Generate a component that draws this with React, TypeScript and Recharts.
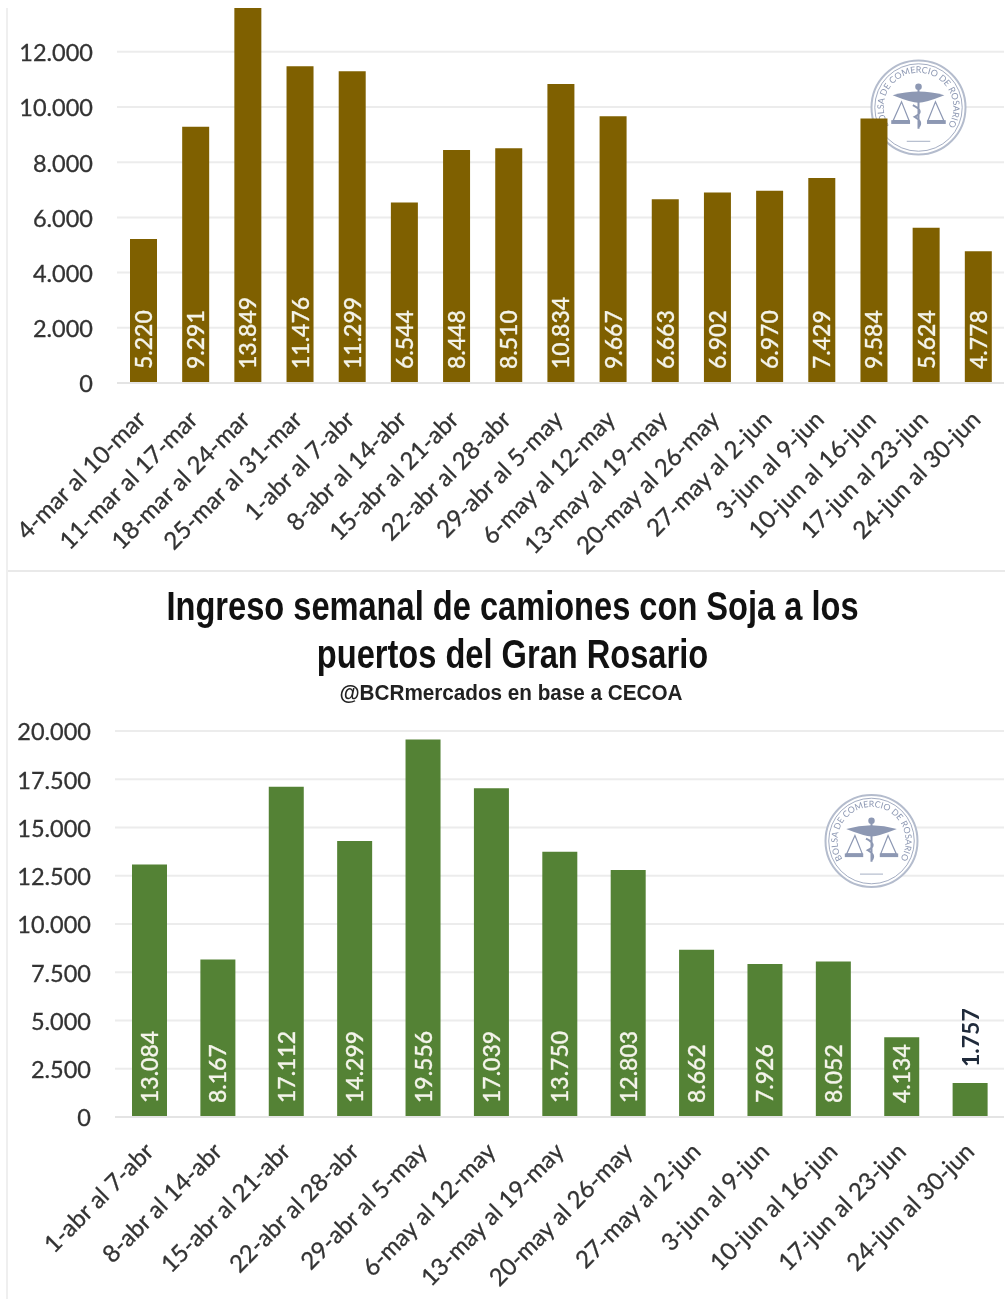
import React from "react";
import { BarChart, Bar, XAxis, YAxis, CartesianGrid, LabelList, Customized } from "recharts";

const maizeWeeks = ["4-mar al 10-mar","11-mar al 17-mar","18-mar al 24-mar","25-mar al 31-mar","1-abr al 7-abr","8-abr al 14-abr","15-abr al 21-abr","22-abr al 28-abr","29-abr al 5-may","6-may al 12-may","13-may al 19-may","20-may al 26-may","27-may al 2-jun","3-jun al 9-jun","10-jun al 16-jun","17-jun al 23-jun","24-jun al 30-jun"];
const maizeValues = [5220,9291,13849,11476,11299,6544,8448,8510,10834,9667,6663,6902,6970,7429,9584,5624,4778];
const maizeTicks = [0,2000,4000,6000,8000,10000,12000];

const sojaWeeks = ["1-abr al 7-abr","8-abr al 14-abr","15-abr al 21-abr","22-abr al 28-abr","29-abr al 5-may","6-may al 12-may","13-may al 19-may","20-may al 26-may","27-may al 2-jun","3-jun al 9-jun","10-jun al 16-jun","17-jun al 23-jun","24-jun al 30-jun"];
const sojaValues = [13084,8167,17112,14299,19556,17039,13750,12803,8662,7926,8052,4134,1757];
const sojaTicks = [0,2500,5000,7500,10000,12500,15000,17500,20000];

const maizeData = maizeWeeks.map((week, i) => ({ week, value: maizeValues[i] }));
const sojaData = sojaWeeks.map((week, i) => ({ week, value: sojaValues[i] }));

const FONT = "Lato, 'Noto Sans', sans-serif";
const TITLE_FONT = "'Liberation Sans', sans-serif";
const fmt = (v: number) => String(v).replace(/\B(?=(\d{3})+(?!\d))/g, ".");

function Seal({ id, cx, cy, r }: { id: string; cx: number; cy: number; r: number }) {
  const c = "#8d98b3";
  const tr = r * 0.74;
  return (
    <g transform={`translate(${cx},${cy})`}>
      <circle r={r} fill="#fff" stroke="#b4bccd" strokeWidth={2} />
      <circle r={r * 0.93} fill="none" stroke={c} strokeWidth={0.8} />
      <path id={id} d={`M ${-tr * 0.8} ${tr * 0.6} A ${tr} ${tr} 0 1 1 ${tr * 0.8} ${tr * 0.6}`} fill="none" />
      <text fontFamily={FONT} fontSize={r * 0.19} fill={c}>
        <textPath href={`#${id}`} startOffset="50%" textAnchor="middle">BOLSA DE COMERCIO DE ROSARIO</textPath>
      </text>
      <path d={`M ${-r * 0.55} ${-r * 0.26} Q 0 ${-r * 0.42} ${r * 0.55} ${-r * 0.26} Q ${r * 0.15} ${-r * 0.1} 0 ${-r * 0.1} Q ${-r * 0.15} ${-r * 0.1} ${-r * 0.55} ${-r * 0.26} Z`} fill={c} />
      <circle cy={-r * 0.44} r={r * 0.07} fill={c} />
      <path d={`M 0 ${-r * 0.4} L 0 ${r * 0.45} M ${-r * 0.12} ${-r * 0.05} Q ${r * 0.15} ${r * 0.08} ${-r * 0.08} ${r * 0.2} Q ${r * 0.1} ${r * 0.3} 0 ${r * 0.42}`} fill="none" stroke={c} strokeWidth={2} />
      {[-1, 1].map((s) => (
        <path key={s} d={`M ${s * r * 0.36} ${-r * 0.12} L ${s * r * 0.2} ${r * 0.28} L ${s * r * 0.54} ${r * 0.28} Z`} fill="none" stroke={c} strokeWidth={1.2} />
      ))}
      <rect x={-r * 0.58} y={r * 0.27} width={r * 0.4} height={r * 0.08} fill={c} />
      <rect x={r * 0.18} y={r * 0.27} width={r * 0.4} height={r * 0.08} fill={c} />
      <path d={`M ${-r * 0.25} ${r * 0.72} L ${r * 0.25} ${r * 0.72}`} stroke="#b4bccd" strokeWidth={1.2} />
    </g>
  );
}

function valueLabel(props: any) {
  const { x, y, width, height, value } = props;
  const cx = x + width / 2;
  const small = height < 60;
  const base = small ? y - 16 : y + height - 14;
  return (
    <text
      transform={`translate(${cx + 8.5},${base}) rotate(-90)`}
      fontFamily={FONT}
      fontSize={23}
      fontWeight={small ? 700 : 500}
      fill={small ? "#1f2a3a" : "#f4f4ea"}
      stroke={small ? "none" : "#f4f4ea"}
      strokeWidth={0.3}
    >
      {fmt(value)}
    </text>
  );
}

function WeeklyChart({ data, ticks, max, color, barSize, height, top, axisH, yWidth, seal, labelShift }: any) {
  return (
    <BarChart width={1005} height={height} data={data} margin={{ top, right: 1, bottom: 0, left: 0 }}>
      <CartesianGrid horizontal vertical={false} syncWithTicks stroke="#ececec" strokeWidth={2} />
      <Customized component={() => <Seal {...seal} />} />
      <XAxis
        dataKey="week"
        interval={0}
        height={axisH}
        tickLine={false}
        axisLine={{ stroke: "#e4e4e4", strokeWidth: 2 }}
        angle={-45}
        textAnchor="end"
        tickMargin={12}
        tick={{ fontFamily: FONT, fontSize: 24, fill: "#333", stroke: "#333", strokeWidth: 0.3, dx: -labelShift, dy: labelShift }}
      />
      <YAxis
        width={yWidth}
        domain={[0, max]}
        allowDataOverflow
        ticks={ticks}
        interval={0}
        tickFormatter={fmt}
        tickLine={false}
        axisLine={false}
        tickSize={0}
        tickMargin={24}
        tick={{ fontFamily: FONT, fontSize: 23.5, fill: "#333", stroke: "#333", strokeWidth: 0.3, dy: 1 }}
      />
      <Bar dataKey="value" fill={color} barSize={barSize} isAnimationActive={false}>
        <LabelList dataKey="value" content={valueLabel} />
      </Bar>
    </BarChart>
  );
}

export default function App() {
  return (
    <div style={{ position: "absolute", left: 0, top: 0, width: 1005, height: 1299, background: "#fff", overflow: "hidden", filter: "blur(0.7px)" }}>
      <div style={{ position: "absolute", left: 0, top: 0 }}>
        <WeeklyChart data={maizeData} ticks={maizeTicks} max={13590} color="#7F6000" barSize={27} height={570} top={8} axisH={187} yWidth={117} labelShift={8}
          seal={{ id: "sealA", cx: 918.5, cy: 107.5, r: 47 }} />
      </div>
      <div style={{ position: "absolute", left: 7, top: 570, width: 998, height: 2, background: "#e9e9e9" }} />
      <div style={{ position: "absolute", left: 6, top: 8, width: 2, height: 1291, background: "#efefef" }} />
      <div style={{ position: "absolute", left: 0, top: 570 }}>
        <WeeklyChart data={sojaData} ticks={sojaTicks} max={20000} color="#548235" barSize={35} height={729} top={161} axisH={182} yWidth={115} labelShift={6}
          seal={{ id: "sealB", cx: 871.5, cy: 271, r: 46 }} />
      </div>
      <div style={{ position: "absolute", left: 0, width: 1025, top: 582, textAlign: "center", fontFamily: TITLE_FONT, fontWeight: 700, fontSize: 40, lineHeight: "48px", color: "#111", transform: "scaleX(0.815)" }}>
        Ingreso semanal de camiones con Soja a los<br />puertos del Gran Rosario
      </div>
      <div style={{ position: "absolute", left: 0, width: 1022, top: 680, textAlign: "center", fontFamily: TITLE_FONT, fontWeight: 700, fontSize: 22, lineHeight: "26px", color: "#222", transform: "scaleX(0.94)" }}>
        @BCRmercados en base a CECOA
      </div>
    </div>
  );
}
